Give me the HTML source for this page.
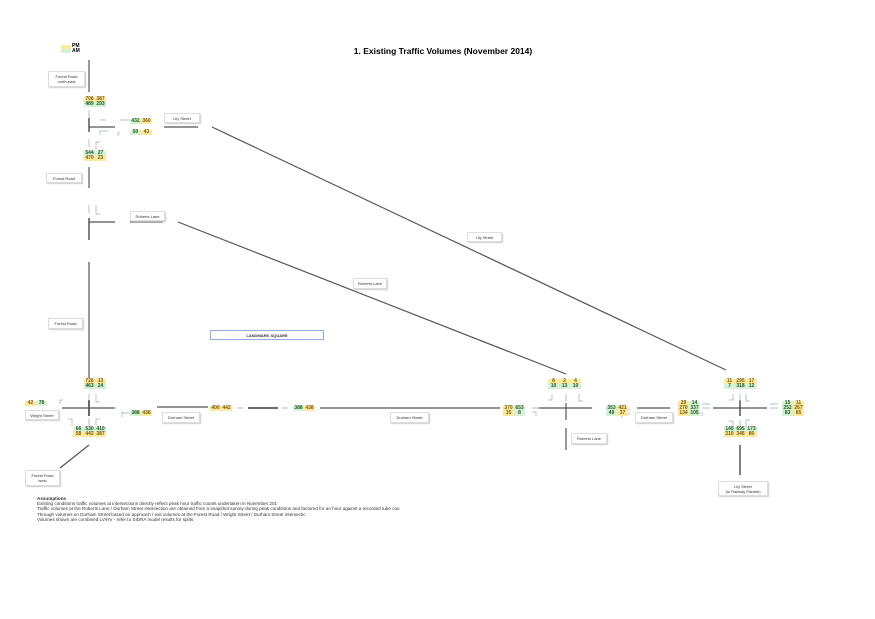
<!DOCTYPE html>
<html><head><meta charset="utf-8"><style>
body{margin:0;width:875px;height:619px;background:#fff;position:relative;overflow:hidden;font-family:"Liberation Sans",sans-serif}
.a{position:absolute}
.lb{position:absolute;border:1px solid #ddd;box-shadow:1px 1px 1px #ccc;background:#fff;font-size:4px;color:#333;text-align:center;display:flex;align-items:center;justify-content:center;line-height:5px}
.n{position:absolute;font-size:5px;font-weight:bold;line-height:5px;text-align:center}
.y{background:#fde9a0;color:#7a5a00}
.g{background:#d6f2d6;color:#1d5a1d}
.n span{display:inline-block;width:11px}
</style></head><body>
<svg class="a" style="left:0;top:0" width="875" height="619">
<g stroke="#555" stroke-width="1.2" fill="none">
<line x1="89" y1="60" x2="89" y2="92"/>
<line x1="89" y1="118" x2="89" y2="132" stroke-width="1.5"/>
<line x1="89" y1="127" x2="115" y2="127"/>
<line x1="164" y1="127" x2="198" y2="127"/>
<line x1="89" y1="167" x2="89" y2="188"/>
<line x1="89" y1="218" x2="89" y2="240" stroke-width="1.5"/>
<line x1="89" y1="222" x2="115" y2="222"/>
<line x1="130" y1="222" x2="163" y2="222"/>
<line x1="89" y1="262" x2="89" y2="378"/>
<line x1="212" y1="127" x2="726" y2="370"/>
<line x1="178" y1="222" x2="566" y2="374"/>
<line x1="62" y1="408" x2="115" y2="408"/>
<line x1="89" y1="400" x2="89" y2="416" stroke-width="1.8"/>
<line x1="157" y1="407" x2="208" y2="407"/>
<line x1="60" y1="468" x2="89" y2="445"/>
<line x1="248" y1="408" x2="278" y2="408" stroke-width="1.8"/>
<line x1="320" y1="408" x2="500" y2="408"/>
<line x1="538" y1="408" x2="592" y2="408"/>
<line x1="566" y1="403" x2="566" y2="420"/>
<line x1="566" y1="428" x2="566" y2="450"/>
<line x1="637" y1="408" x2="670" y2="408"/>
<line x1="713" y1="408" x2="767" y2="408"/>
<line x1="740" y1="400" x2="740" y2="416" stroke-width="1.5"/>
<line x1="740" y1="445" x2="740" y2="475" stroke-width="1.5"/>
</g>
<g stroke="#9ab" stroke-width="0.7" fill="none">
<path d="M89 110v8M100 120h6M100 135v-4h8M89 147v-8M96 150v-8h4M89 205v8M96 205v9h4M60 404v-4h3M96 394v8h4M89 394v7M72 426v-7h-4M89 426v-8M96 426v-7h4M122 413h8M122 411v6M630 410h-8M630 414h-8v4M552 394v6h-4M566 394v7M579 394v7h4M740 394v7M733 394v6h-4M746 394v7h4M702 404h8M702 408h8M702 412v4M770 404h8M770 408h8M733 427v-6h-4M740 427v-7M746 427v-7h4M532 408h8M532 412h4v4M237 408h6M282 408h6M120 120h10M120 133h-2v3"/>
</g>
</svg>
<div class="a" style="left:61px;top:45px;width:10px;height:4px;background:#fde9a0"></div>
<div class="a" style="left:61px;top:49px;width:10px;height:4px;background:#d6f2d6"></div>
<div class="a" style="left:72px;top:44px;font-size:5px;font-weight:bold;line-height:5px">PM<br>AM</div>
<div class="a" style="left:343px;top:46px;width:200px;text-align:center;font-size:8.5px;font-weight:bold">1. Existing Traffic Volumes (November 2014)</div>

<div class="lb" style="left:48px;top:71px;width:35px;height:14px">Forest Road<br>north-east</div>
<div class="n" style="left:84px;top:97px"><div class="y"><span>706</span><span>387</span></div><div class="g"><span>489</span><span>293</span></div></div>
<div class="n" style="left:130px;top:119px"><div><span class="g">432</span><span class="y">360</span></div></div>
<div class="n" style="left:130px;top:130px"><div><span class="g">50</span><span class="y">43</span></div></div>
<div class="lb" style="left:164px;top:113px;width:34px;height:8px">Lily Street</div>
<div class="n" style="left:84px;top:151px"><div class="g"><span>544</span><span>27</span></div><div class="y"><span>470</span><span>23</span></div></div>
<div class="lb" style="left:46px;top:173px;width:34px;height:8px">Forest Road</div>
<div class="lb" style="left:130px;top:211px;width:33px;height:8px">Roberts Lane</div>
<div class="lb" style="left:48px;top:318px;width:33px;height:9px">Forest Road</div>
<div class="lb" style="left:467px;top:232px;width:33px;height:8px">Lily Street</div>
<div class="lb" style="left:353px;top:278px;width:32px;height:9px">Roberts Lane</div>
<div class="lb" style="left:210px;top:330px;width:112px;height:8px;border:1px solid #8fb0d8;box-shadow:none;font-weight:bold">LANDMARK SQUARE</div>

<div class="n" style="left:84px;top:379px"><div class="y"><span>726</span><span>13</span></div><div class="g"><span>463</span><span>24</span></div></div>
<div class="n" style="left:25px;top:401px"><div><span class="y">42</span><span class="g">78</span></div></div>
<div class="lb" style="left:25px;top:410px;width:32px;height:8px">Wright Street</div>
<div class="n" style="left:130px;top:411px"><div><span class="g">388</span><span class="y">438</span></div></div>
<div class="lb" style="left:162px;top:412px;width:36px;height:9px">Durham Street</div>
<div class="n" style="left:73px;top:427px"><div class="g"><span>66</span><span>530</span><span>410</span></div><div class="y"><span>58</span><span>442</span><span>387</span></div></div>
<div class="lb" style="left:25px;top:470px;width:33px;height:14px">Forest Road<br>west</div>

<div class="n" style="left:210px;top:406px"><div><span class="y">400</span><span class="y">442</span></div></div>
<div class="n" style="left:293px;top:406px"><div><span class="g">388</span><span class="y">438</span></div></div>
<div class="lb" style="left:390px;top:412px;width:37px;height:9px">Durham Street</div>

<div class="n" style="left:503px;top:406px"><div><span class="y">370</span><span class="g">653</span></div><div><span class="y">15</span><span class="g">8</span></div></div>
<div class="n" style="left:548px;top:379px"><div class="y"><span>8</span><span>2</span><span>4</span></div><div class="g"><span>10</span><span>13</span><span>10</span></div></div>
<div class="n" style="left:606px;top:406px"><div><span class="g">353</span><span class="y">421</span></div><div><span class="g">49</span><span class="y">37</span></div></div>
<div class="lb" style="left:571px;top:433px;width:34px;height:9px">Roberts Lane</div>
<div class="lb" style="left:635px;top:412px;width:36px;height:9px">Durham Street</div>

<div class="n" style="left:678px;top:401px"><div><span class="y">29</span><span class="g">14</span></div><div><span class="y">270</span><span class="g">337</span></div><div><span class="y">134</span><span class="g">105</span></div></div>
<div class="n" style="left:724px;top:379px"><div class="y"><span>11</span><span>295</span><span>17</span></div><div class="g"><span>7</span><span>318</span><span>12</span></div></div>
<div class="n" style="left:782px;top:401px"><div><span class="g">15</span><span class="y">11</span></div><div><span class="g">252</span><span class="y">267</span></div><div><span class="g">83</span><span class="y">65</span></div></div>
<div class="n" style="left:724px;top:427px"><div class="g"><span>145</span><span>695</span><span>173</span></div><div class="y"><span>210</span><span>346</span><span>80</span></div></div>
<div class="lb" style="left:718px;top:481px;width:48px;height:13px">Lily Street<br>(to Railway Parade)</div>

<div class="a" style="left:37px;top:496px;font-size:4.6px;line-height:5.2px;color:#333;white-space:nowrap"><b>Assumptions</b><br>Existing conditions traffic volumes at intersections directly reflect peak hour traffic counts undertaken in November 201<br>Traffic volumes at the Roberts Lane / Durham Street intersection are obtained from a snapshot survey during peak conditions and factored for an hour against a recorded tube cou<br>Through volumes on Durham Street based on approach / exit volumes at the Forest Road / Wright Street / Durham Street intersectic<br>Volumes shown are combined LV/HV - refer to SIDRA model results for splits</div>
</body></html>
